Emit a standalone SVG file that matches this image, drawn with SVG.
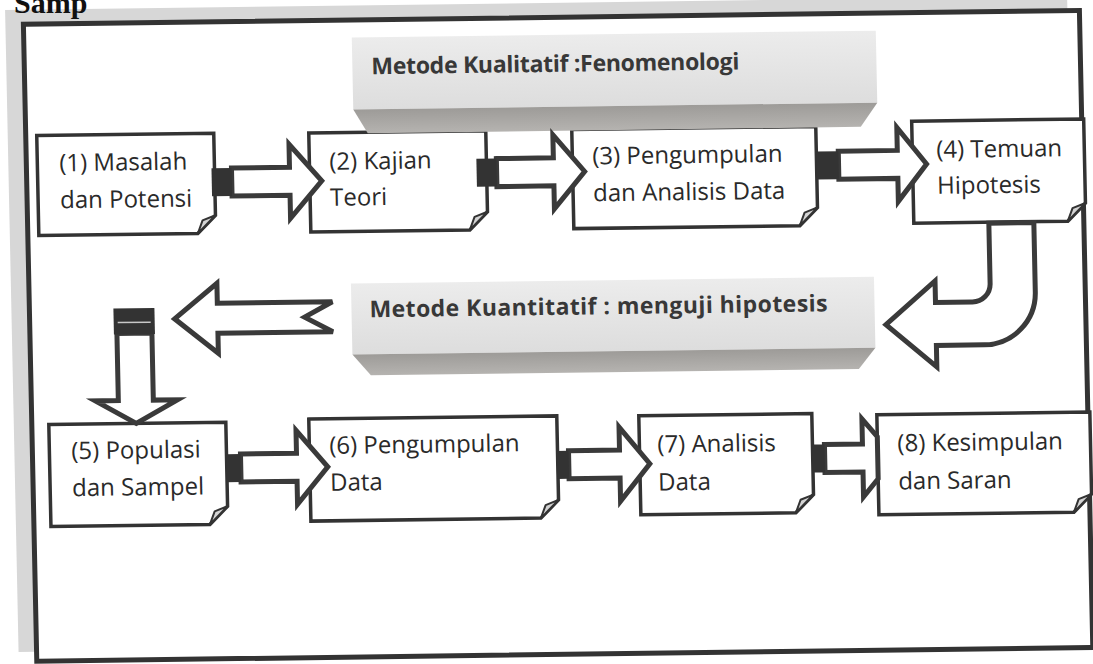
<svg xmlns="http://www.w3.org/2000/svg" width="1093" height="664" viewBox="0 0 1093 664">
<defs>
<style>
.box{fill:#fff;stroke:#333;stroke-width:3.5;stroke-linejoin:miter}
.fold{fill:#d4d4d4;stroke:#333;stroke-width:2;stroke-linejoin:round}
.lbl{font-family:"Open Sans","Noto Sans","Liberation Sans",sans-serif;font-size:24px;font-weight:500;fill:#2a2a2a}
.ban{font-family:"Open Sans","Noto Sans","Liberation Sans",sans-serif;font-size:23px;font-weight:700;fill:#383838}
.arr{fill:#fff;stroke:#3a3a3a;stroke-width:5;stroke-linejoin:miter}
.blk{fill:#333}
</style>
<linearGradient id="front" x1="0" y1="0" x2="0" y2="1">
<stop offset="0" stop-color="#ececec"/>
<stop offset="1" stop-color="#dddddd"/>
</linearGradient>
<linearGradient id="under" x1="0" y1="0" x2="0" y2="1">
<stop offset="0" stop-color="#9d9b98"/>
<stop offset="1" stop-color="#b5b3b0"/>
</linearGradient>
</defs>
<rect width="1093" height="664" fill="#fff"/>
<g transform="matrix(1,-0.013,0.021,1,-6.97,7.1)">
<rect x="12" y="3" width="1062" height="642" fill="#d7d7d7"/>
<rect id="frame" x="30" y="17.5" width="1056" height="637" fill="#fff" stroke="#333" stroke-width="5"/>

<g id="n1"><path class="box" d="M41,129 H218 V211 L200,229 H41 Z"/><path class="fold" d="M200,229 L205,216 L218,211 Z"/>
<text class="lbl" x="63" y="165">(1) Masalah</text><text class="lbl" x="63" y="202">dan Potensi</text></g>
<g id="n2"><path class="box" d="M313,130 H490 V211 L472,229 H313 Z"/><path class="fold" d="M472,229 L477,216 L490,211 Z"/>
<text class="lbl" x="333" y="167">(2) Kajian</text><text class="lbl" x="333" y="203">Teori</text></g>
<g id="n3"><path class="box" d="M576,130 H820 V211 L802,229 H576 Z"/><path class="fold" d="M802,229 L807,216 L820,211 Z"/>
<text class="lbl" x="596" y="165">(3) Pengumpulan</text><text class="lbl" x="596" y="202">dan Analisis Data</text></g>
<g id="n4"><path class="box" d="M916,126 H1088 V210 L1070,228 H916 Z"/><path class="fold" d="M1070,228 L1075,215 L1088,210 Z"/>
<text class="lbl" x="940" y="163">(4) Temuan</text><text class="lbl" x="940" y="199">Hipotesis</text></g>

<g id="banner1"><rect x="358" y="35" width="524" height="72" fill="url(#front)"/><polygon points="358,107 882,107 865,131 372,131" fill="url(#under)"/>
<text class="ban" x="377" y="72" textLength="368" lengthAdjust="spacing">Metode Kualitatif :Fenomenologi</text></g>
<g id="banner2"><rect x="352" y="281" width="523" height="71" fill="url(#front)"/><polygon points="352,352 875,352 858,373 370,373" fill="url(#under)"/>
<text class="ban" x="370" y="315" textLength="458" lengthAdjust="spacing">Metode Kuantitatif : menguji hipotesis</text></g>

<g id="n5"><path class="box" d="M47,418 H224 V502 L206,520 H47 Z"/><path class="fold" d="M206,520 L211,507 L224,502 Z"/>
<text class="lbl" x="69" y="453">(5) Populasi</text><text class="lbl" x="69" y="490">dan Sampel</text></g>
<g id="n6"><path class="box" d="M307,416 H555 V500 L537,518 H307 Z"/><path class="fold" d="M537,518 L542,505 L555,500 Z"/>
<text class="lbl" x="327" y="451">(6) Pengumpulan</text><text class="lbl" x="327" y="488">Data</text></g>
<g id="n7"><path class="box" d="M637,417 H810 V498 L792,516 H637 Z"/><path class="fold" d="M792,516 L797,503 L810,498 Z"/>
<text class="lbl" x="655" y="454">(7) Analisis</text><text class="lbl" x="655" y="492">Data</text></g>
<g id="n8"><path class="box" d="M875,419 H1088 V501 L1070,519 H875 Z"/><path class="fold" d="M1070,519 L1075,506 L1088,501 Z"/>
<text class="lbl" x="895" y="456">(8) Kesimpulan</text><text class="lbl" x="895" y="494">dan Saran</text></g>

<g id="connectors">
<path class="arr" d="M235,164 H293 V141 L325,178 L293,215 V192 H235 Z"/><rect class="blk" x="215" y="164" width="20" height="28"/>
<path class="arr" d="M500,158 H557 V135 L588,172 L557,209 V186 H500 Z"/><rect class="blk" x="480" y="158" width="20" height="28"/>
<path class="arr" d="M842,155 H901 V132 L930,169 L901,206 V183 H842 Z"/><rect class="blk" x="820" y="155" width="22" height="28"/>
<path class="arr" d="M1036,229 V298.5 A52,52 0 0 1 984,350.5 H936 V372 L886,329 L936,286 V307.5 H973 A18,18 0 0 0 991,289.5 V229 Z"/>
<path class="arr" d="M175,314 L218,279 V299 H333 L305,314 L333,329 H218 V349 Z"/>
<path class="arr" d="M117,328 V395 H94 L134.5,418 L176,395 H152 V328 Z"/><rect class="blk" x="114" y="303" width="41" height="26"/><line x1="118" y1="317" x2="151" y2="317" stroke="#c8c8c8" stroke-width="1.5"/>
<path class="arr" d="M238,450 H294 V427 L325,464 L294,501 V478 H238 Z"/><rect class="blk" x="224" y="450" width="14" height="28"/>
<path class="arr" d="M566,451 H617 V428 L647,465 L617,502 V479 H566 Z"/><rect class="blk" x="554" y="451" width="12" height="28"/>
<path class="arr" d="M822,448 H860 V423 L875,441 V483 L860,501 V476 H822 Z"/><rect class="blk" x="810" y="448" width="12" height="28"/>
</g>
</g>
<text x="14" y="13" font-family="Liberation Serif,serif" font-size="30" font-weight="700" fill="#111">Samp</text>
</svg>
